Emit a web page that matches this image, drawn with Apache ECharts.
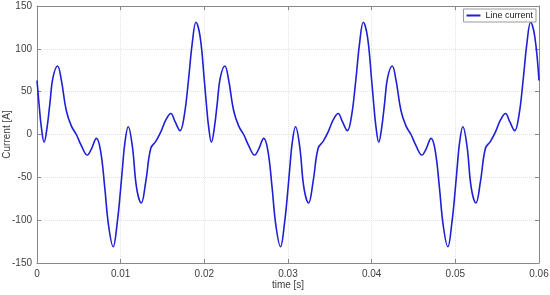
<!DOCTYPE html>
<html>
<head>
<meta charset="utf-8">
<script src="https://cdn.jsdelivr.net/npm/echarts@6/dist/echarts.min.js"></script>
<style>
  html, body { margin: 0; padding: 0; background: #fff; }
  #main { width: 550px; height: 295px; }
</style>
</head>
<body>
<div id="main"></div>
<script>
// one period (0 .. 0.02 s), repeated for the 3 periods shown
var periodTime = [0, 0.00025, 0.0005, 0.00085, 0.0012, 0.00155, 0.0019, 0.00246, 0.0029, 0.0035,
  0.0041, 0.0047, 0.0053, 0.006, 0.0065, 0.0071, 0.0076, 0.0081, 0.00855, 0.0091,
  0.0096, 0.01, 0.01025, 0.0105, 0.0109, 0.0114, 0.0119, 0.01246, 0.013, 0.0136,
  0.0142, 0.0148, 0.0154, 0.016, 0.0165, 0.0171, 0.0176, 0.0181, 0.01855, 0.019,
  0.0195];
var periodCurrent = [63, 35, 10, -9, 8, 37, 66, 80, 64, 28,
  10, 0, -13, -24, -17, -4.5, -19, -62, -106, -131,
  -102, -63, -35, -10, 9, -14, -62, -80, -55, -16,
  -8, 3, 17, 24.5, 15, 4.5, 22, 63, 106, 131,
  114];
var periods = [0, 0.02, 0.04];
var endPoint = [0.06, 63];
var xTicks = ['0', '0.01', '0.02', '0.03', '0.04', '0.05', '0.06'];

var data = [];
periods.forEach(function (p) {
  for (var i = 0; i < periodTime.length; i++) {
    data.push([+(p + periodTime[i]).toFixed(6), periodCurrent[i]]);
  }
});
data.push(endPoint);

var font = 'Liberation Sans, Arial, sans-serif';
var axisGray = '#888888';
var labelColor = '#404040';
var gridColor = '#e3e3e3';

var chart = echarts.init(document.getElementById('main'), null, { renderer: 'canvas' });
chart.setOption({
  animation: false,
  backgroundColor: '#ffffff',
  grid: { left: 37, right: 11, top: 6, bottom: 32, containLabel: false, outerBoundsMode: 'none' },
  legend: {
    right: 14, top: 9,
    data: ['Line current'],
    itemWidth: 14, itemHeight: 2, itemGap: 2,
    padding: [2, 3, 2, 3],
    borderColor: '#999', borderWidth: 1, backgroundColor: '#fff',
    textStyle: { fontFamily: font, fontSize: 9, color: '#222' },
    icon: 'rect'
  },
  xAxis: [{
    type: 'value', min: 0, max: 0.06, interval: 0.01,
    name: 'time [s]', nameLocation: 'middle', nameGap: 17, nameMoveOverlap: false,
    nameTextStyle: { fontFamily: font, fontSize: 10, color: labelColor },
    axisLine: { onZero: false, lineStyle: { color: axisGray } },
    axisTick: { inside: true, length: 4, lineStyle: { color: axisGray } },
    axisLabel: {
      fontFamily: font, fontSize: 10, color: labelColor, margin: 6,
      formatter: function (v) { return xTicks[Math.round(v / 0.01)]; }
    },
    splitLine: { show: true, lineStyle: { color: gridColor, type: 'dotted' } }
  }, {
    type: 'value', position: 'top', min: 0, max: 0.06, interval: 0.01,
    axisLine: { show: true, onZero: false, lineStyle: { color: axisGray } },
    axisTick: { inside: true, length: 4, lineStyle: { color: axisGray } },
    axisLabel: { show: false }, splitLine: { show: false }
  }],
  yAxis: [{
    type: 'value', min: -150, max: 150, interval: 50,
    name: 'Current [A]', nameLocation: 'middle', nameGap: 25, nameMoveOverlap: false,
    nameTextStyle: { fontFamily: font, fontSize: 10, color: labelColor },
    axisLine: { show: true, onZero: false, lineStyle: { color: axisGray } },
    axisTick: { show: true, inside: true, length: 4, lineStyle: { color: axisGray } },
    axisLabel: { fontFamily: font, fontSize: 10, color: labelColor, margin: 5 },
    splitLine: { show: true, lineStyle: { color: gridColor, type: 'dotted' } }
  }, {
    type: 'value', position: 'right', min: -150, max: 150, interval: 50,
    axisLine: { show: true, onZero: false, lineStyle: { color: axisGray } },
    axisTick: { show: true, inside: true, length: 4, lineStyle: { color: axisGray } },
    axisLabel: { show: false }, splitLine: { show: false }
  }],
  series: [{
    name: 'Line current',
    type: 'line',
    data: data,
    smooth: 0.4,
    showSymbol: false,
    color: '#1f1fd6',
    lineStyle: { width: 1.6, color: '#1f1fd6' }
  }]
});
</script>
</body>
</html>
